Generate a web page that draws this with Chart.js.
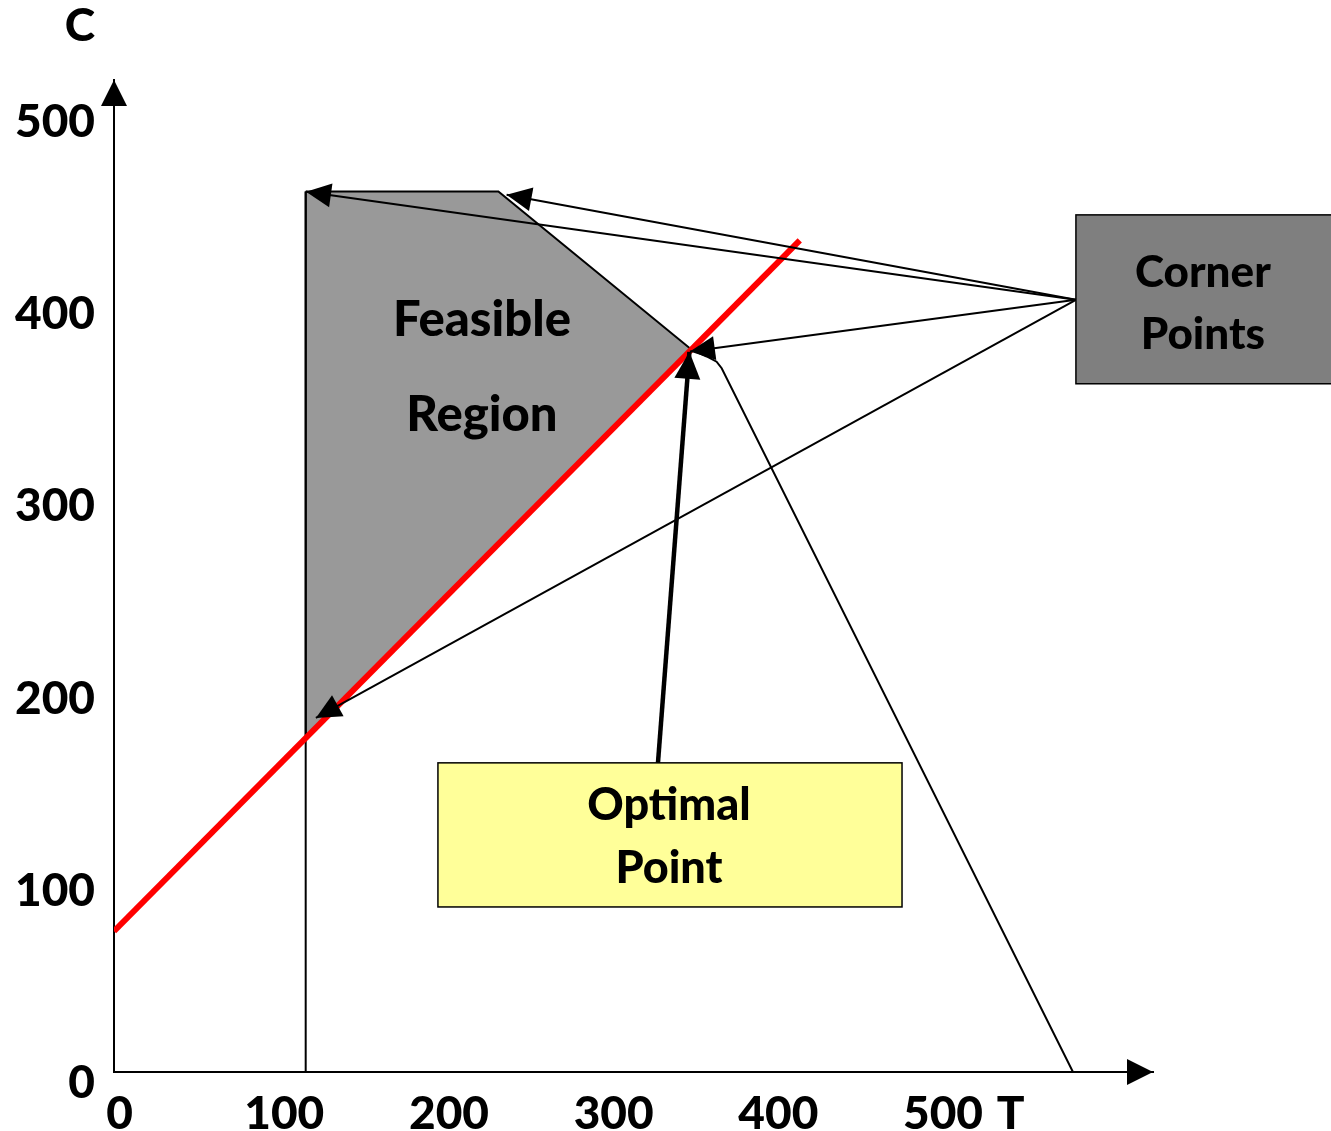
<!DOCTYPE html>
<html>
<head>
<meta charset="utf-8">
<script src="https://cdn.jsdelivr.net/npm/chart.js@4/dist/chart.umd.min.js"></script>
<style>
  html, body { margin: 0; padding: 0; background: #ffffff; }
  #wrap { width: 1331px; height: 1131px; }
</style>
</head>
<body>
<div id="wrap"><canvas id="lp" width="1331" height="1131"></canvas></div>
<script>
// ---- axes ----
const xTicks = [0, 100, 200, 300, 400, 500];
const yTicks = [0, 100, 200, 300, 400, 500];
const xRange = [-3.4, 627.5];
const yRange = [5.7, 522];
const xTitle = 'T';
const yTitle = 'C';
const xTitleAt = 541;
const yTitleAt = 550;

// ---- constraints and objective (T, C) ----
const feasibleRegion = [
  { x: 113, y: 464 }, { x: 230, y: 464 }, { x: 347.4, y: 381.6 },
  { x: 113, y: 179.6 }, { x: 113, y: 464 }
];
const minTLine = [{ x: 113, y: 5.7 }, { x: 113, y: 464 }];
const slopeLine = [
  { x: 347.4, y: 381.6 }, { x: 356.5, y: 378.1 }, { x: 362.5, y: 375.4 },
  { x: 365.6, y: 372 }, { x: 578.9, y: 5.7 }
];
const objectiveLine = [{ x: -3.4, y: 79 }, { x: 413, y: 438.5 }];

// ---- callouts ----
const cornerSource = { x: 580.7, y: 407.6 };
const cornerTargets = [
  { x: 113.2, y: 463.8 }, { x: 235.0, y: 462.3 },
  { x: 346.3, y: 380.7 }, { x: 119.2, y: 190.0 }
];
const optimalSource = { x: 326.9, y: 166.6 };
const optimalTarget = { x: 346.0, y: 380.5 };

const cornerBox = { x0: 580.7, x1: 745, y0: 363.9, y1: 451.8 };
const optimalBox = { x0: 193.3, x1: 475.1, y0: 91.6, y1: 166.6 };

const textLabels = [
  { text: 'Feasible', x: 220, y: 388.9, size: 49 },
  { text: 'Region', x: 220, y: 339.4, size: 49 },
  { text: 'Corner', x: 657.8, y: 414.2, size: 44 },
  { text: 'Points', x: 657.8, y: 382.1, size: 44 },
  { text: 'Optimal', x: 333.6, y: 136.9, size: 45 },
  { text: 'Point', x: 333.6, y: 104.1, size: 45 }
];

const FONT = 'Lato, "Open Sans", sans-serif';
const WEIGHT = '900';

const datasets = [];
cornerTargets.forEach(t => datasets.push({
  data: [cornerSource, t], borderColor: '#000000', borderWidth: 2,
  pointRadius: 0, fill: false, arrowHead: { len: 25, half: 12 }
}));
datasets.push({
  data: [optimalSource, optimalTarget], borderColor: '#000000', borderWidth: 4.5,
  pointRadius: 0, fill: false, arrowHead: { len: 27, half: 13 }
});
datasets.push({
  data: objectiveLine, borderColor: '#ff0000', borderWidth: 6,
  pointRadius: 0, fill: false, borderCapStyle: 'butt'
});
datasets.push({
  data: minTLine, borderColor: '#000000', borderWidth: 2, pointRadius: 0, fill: false
});
datasets.push({
  data: slopeLine, borderColor: '#000000', borderWidth: 2, pointRadius: 0, fill: false
});
datasets.push({
  data: feasibleRegion, borderColor: '#000000', borderWidth: 2,
  backgroundColor: '#999999', pointRadius: 0, fill: 'shape'
});

function tri(ctx, tip, from, len, half) {
  const dx = tip.x - from.x, dy = tip.y - from.y;
  const d = Math.hypot(dx, dy) || 1;
  const ux = dx / d, uy = dy / d;
  const bx = tip.x - ux * len, by = tip.y - uy * len;
  ctx.beginPath();
  ctx.moveTo(tip.x, tip.y);
  ctx.lineTo(bx - uy * half, by + ux * half);
  ctx.lineTo(bx + uy * half, by - ux * half);
  ctx.closePath();
  ctx.fill();
}

const decorations = {
  id: 'decorations',
  afterDatasetsDraw(chart) {
    const ctx = chart.ctx;
    const xs = chart.scales.x, ys = chart.scales.y;
    const area = chart.chartArea;
    ctx.save();
    ctx.fillStyle = '#000000';
    // arrowheads on callout lines
    chart.data.datasets.forEach((ds, i) => {
      if (!ds.arrowHead) return;
      const pts = chart.getDatasetMeta(i).data;
      const a = pts[pts.length - 2], b = pts[pts.length - 1];
      tri(ctx, { x: b.x, y: b.y }, { x: a.x, y: a.y }, ds.arrowHead.len, ds.arrowHead.half);
    });
    // axis arrowheads
    tri(ctx, { x: area.left, y: area.top }, { x: area.left, y: area.bottom }, 26, 13);
    tri(ctx, { x: area.right, y: area.bottom }, { x: area.left, y: area.bottom }, 26, 13);

    // callout boxes
    const box = (b, fill) => {
      const x0 = xs.getPixelForValue(b.x0), x1 = xs.getPixelForValue(b.x1);
      const y0 = ys.getPixelForValue(b.y1), y1 = ys.getPixelForValue(b.y0);
      ctx.fillStyle = fill;
      ctx.fillRect(x0, y0, x1 - x0, y1 - y0);
      ctx.strokeStyle = '#000000';
      ctx.lineWidth = 1.5;
      ctx.strokeRect(x0, y0, x1 - x0, y1 - y0);
    };
    box(cornerBox, '#7f7f7f');
    box(optimalBox, '#ffff99');

    // labels
    ctx.fillStyle = '#000000';
    ctx.textAlign = 'center';
    ctx.textBaseline = 'alphabetic';
    textLabels.forEach(l => {
      ctx.font = WEIGHT + ' ' + l.size + 'px ' + FONT;
      ctx.fillText(l.text, xs.getPixelForValue(l.x), ys.getPixelForValue(l.y));
    });

    // axis names
    ctx.font = WEIGHT + ' 46px ' + FONT;
    ctx.textAlign = 'right';
    ctx.textBaseline = 'middle';
    ctx.fillText(yTitle, area.left - 19, ys.getPixelForValue(yTitleAt));
    ctx.textAlign = 'center';
    ctx.fillText(xTitle, xs.getPixelForValue(xTitleAt), area.bottom + 19 + 23);
    ctx.restore();
  }
};

const tickFont = { family: FONT, weight: WEIGHT, size: 46, lineHeight: 1 };

new Chart(document.getElementById('lp'), {
  type: 'line',
  data: { datasets },
  options: {
    responsive: false,
    devicePixelRatio: 1,
    animation: false,
    layout: { padding: { top: 80, right: 178, left: 0, bottom: 0 } },
    plugins: { legend: { display: false }, tooltip: { enabled: false } },
    scales: {
      x: {
        type: 'linear', min: xRange[0], max: xRange[1],
        afterBuildTicks: s => { s.ticks = xTicks.map(v => ({ value: v })); },
        afterFit: s => { s.height = 59; },
        grid: { display: false, drawTicks: false },
        border: { display: true, color: '#000000', width: 2 },
        ticks: { font: tickFont, color: '#000000', padding: 19, autoSkip: false, maxRotation: 0 }
      },
      y: {
        type: 'linear', min: yRange[0], max: yRange[1],
        afterBuildTicks: s => { s.ticks = yTicks.map(v => ({ value: v })); },
        afterFit: s => { s.width = 114; },
        grid: { display: false, drawTicks: false },
        border: { display: true, color: '#000000', width: 2 },
        ticks: { font: tickFont, color: '#000000', padding: 19, autoSkip: false }
      }
    }
  },
  plugins: [decorations]
});
</script>
</body>
</html>
